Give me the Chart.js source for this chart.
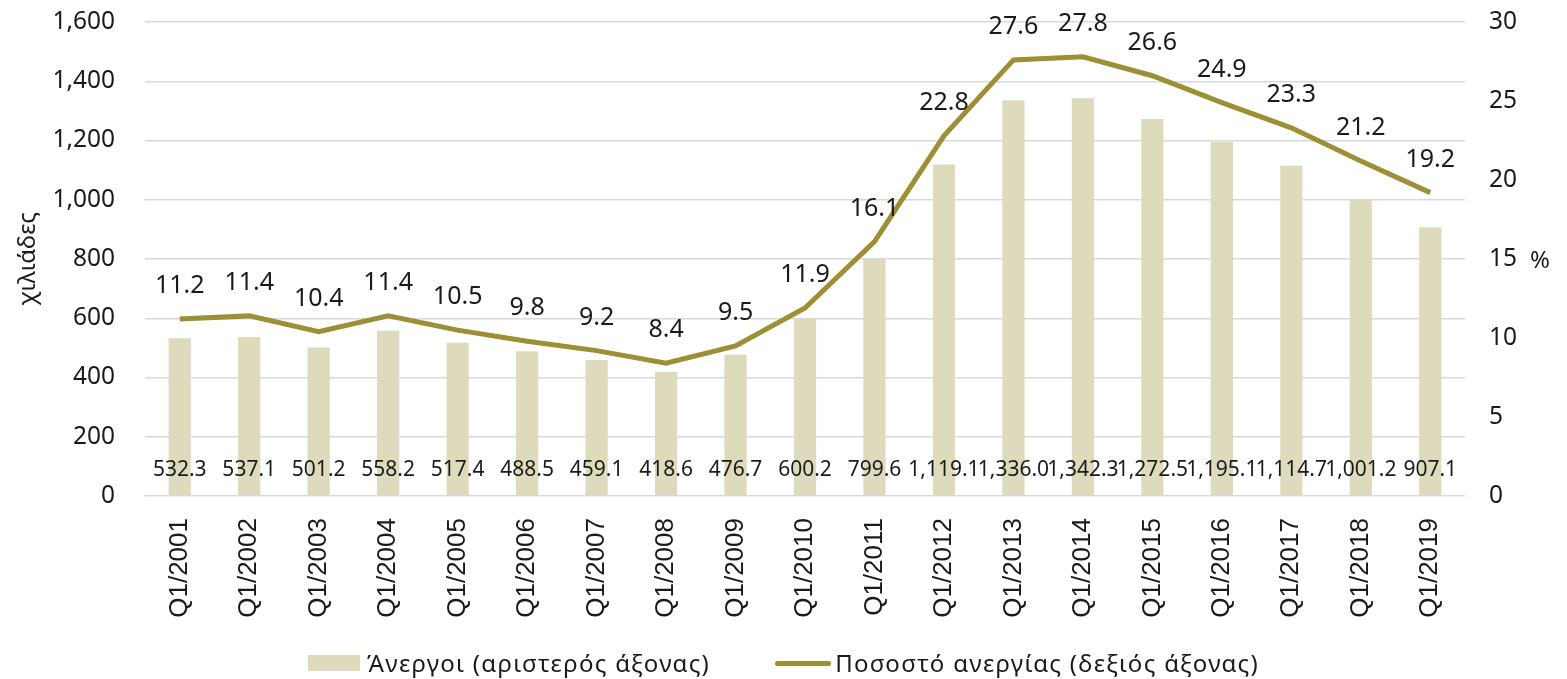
<!DOCTYPE html>
<html>
<head>
<meta charset="utf-8">
<script src="https://cdn.jsdelivr.net/npm/chart.js@4.4.0/dist/chart.umd.min.js"></script>
<style>
  html, body { margin: 0; padding: 0; background: #fff; }
  #wrap { position: relative; width: 1567px; height: 679px; }
  #legend {
    position: absolute; left: 0; right: 0; top: 647px;
    display: flex; justify-content: center; gap: 65px;
    font-family: 'Noto Sans', 'Open Sans', sans-serif; font-size: 24px; color: #1a1a1a;
    letter-spacing: 1.3px; line-height: 32px;
  }
  .lg-item { display: flex; align-items: center; }
  .lg-box { width: 52px; height: 16px; background: #dedbbc; margin-right: 7px; }
  .lg-line { width: 56px; height: 5px; background: #9c8f34; border-radius: 3px; margin-right: 4px; }
</style>
</head>
<body>
<div id="wrap">
  <canvas id="chart" width="1567" height="679"></canvas>
  <div id="legend">
    <div class="lg-item"><div class="lg-box"></div><span>Άνεργοι (αριστερός άξονας)</span></div>
    <div class="lg-item"><div class="lg-line"></div><span>Ποσοστό ανεργίας (δεξιός άξονας)</span></div>
  </div>
</div>
<script>
/* ── Data ───────────────────────────────────────────── */
const QUARTERS = [
  'Q1/2001', 'Q1/2002', 'Q1/2003', 'Q1/2004', 'Q1/2005', 'Q1/2006', 'Q1/2007',
  'Q1/2008', 'Q1/2009', 'Q1/2010', 'Q1/2011', 'Q1/2012', 'Q1/2013', 'Q1/2014',
  'Q1/2015', 'Q1/2016', 'Q1/2017', 'Q1/2018', 'Q1/2019',
];

const UNEMPLOYED = [
  532.3, 537.1, 501.2, 558.2, 517.4, 488.5, 459.1, 418.6, 476.7, 600.2,
  799.6, 1119.1, 1336.0, 1342.3, 1272.5, 1195.1, 1114.7, 1001.2, 907.1,
];

const RATE = [
  11.2, 11.4, 10.4, 11.4, 10.5, 9.8, 9.2, 8.4, 9.5, 11.9,
  16.1, 22.8, 27.6, 27.8, 26.6, 24.9, 23.3, 21.2, 19.2,
];

const BAR_COLOR  = '#dedbbc';
const LINE_COLOR = '#9c8f34';
const FONT = "'Noto Sans', 'Open Sans', sans-serif";
const XFONT = "'Liberation Sans', Arial, sans-serif";
const TEXT = '#1a1a1a';

/* ── Value labels (bars at base, line above points) ── */
const labelPlugin = {
  id: 'valueLabels',
  afterDatasetsDraw(chart) {
    const ctx = chart.ctx;
    const base = chart.scales.y.getPixelForValue(0);
    ctx.save();
    ctx.fillStyle = TEXT;
    ctx.textAlign = 'center';
    ctx.textBaseline = 'middle';

    ctx.font = `21px ${FONT}`;
    chart.getDatasetMeta(0).data.forEach((el, i) => {
      const txt = UNEMPLOYED[i].toLocaleString('en-US', { minimumFractionDigits: 1, maximumFractionDigits: 1 });
      ctx.fillText(txt, el.x, base - 26);
    });

    ctx.font = `25px ${FONT}`;
    chart.getDatasetMeta(1).data.forEach((el, i) => {
      ctx.fillText(RATE[i].toFixed(1), el.x, el.y - 33);
    });

    /* right axis unit */
    const r = chart.scales.y1;
    ctx.font = `24px ${FONT}`;
    ctx.textAlign = 'left';
    ctx.fillText('%', 1530, r.getPixelForValue(15) + 2);
    ctx.restore();
  },
};

/* ── Chart ──────────────────────────────────────────── */
new Chart(document.getElementById('chart').getContext('2d'), {
  data: {
    labels: QUARTERS,
    datasets: [
      {
        type: 'bar',
        label: 'Άνεργοι (αριστερός άξονας)',
        data: UNEMPLOYED,
        backgroundColor: BAR_COLOR,
        borderWidth: 0,
        yAxisID: 'y',
        barPercentage: 0.32,
        categoryPercentage: 1.0,
        order: 2,
      },
      {
        type: 'line',
        label: 'Ποσοστό ανεργίας (δεξιός άξονας)',
        data: RATE,
        borderColor: LINE_COLOR,
        borderWidth: 5,
        pointRadius: 0,
        tension: 0,
        yAxisID: 'y1',
        order: 1,
      },
    ],
  },
  options: {
    responsive: false,
    animation: false,
    layout: { padding: 0 },
    plugins: {
      legend: { display: false },
      tooltip: { enabled: false },
    },
    scales: {
      x: {
        afterFit: s => { s.height = 183; s.paddingLeft = 0; s.paddingRight = 0; },
        grid: { display: false },
        border: { display: false },
        ticks: {
          color: TEXT, font: { family: XFONT, size: 26 },
          minRotation: 90, maxRotation: 90, padding: 14,
        },
      },
      y: {
        position: 'left',
        min: 0, max: 1600,
        afterFit: s => { s.width = 145; s.paddingTop = 22; s.paddingBottom = 0; },
        grid: { color: '#d9d9d9', lineWidth: 1.5, drawTicks: false },
        border: { display: false },
        ticks: {
          stepSize: 200, color: TEXT, padding: 30,
          font: { family: FONT, size: 24.5 },
          callback: v => v.toLocaleString('en-US'),
        },
        title: {
          display: true, text: 'χιλιάδες', color: TEXT,
          font: { family: FONT, size: 24 }, padding: { top: 14, bottom: 0 },
        },
      },
      y1: {
        position: 'right',
        min: 0, max: 30,
        afterFit: s => { s.width = 102; s.paddingTop = 22; s.paddingBottom = 0; },
        grid: { display: false, drawTicks: false },
        border: { display: false },
        ticks: {
          stepSize: 5, color: TEXT, padding: 24,
          font: { family: FONT, size: 24.5 },
        },
      },
    },
  },
  plugins: [labelPlugin],
});
</script>
</body>
</html>
